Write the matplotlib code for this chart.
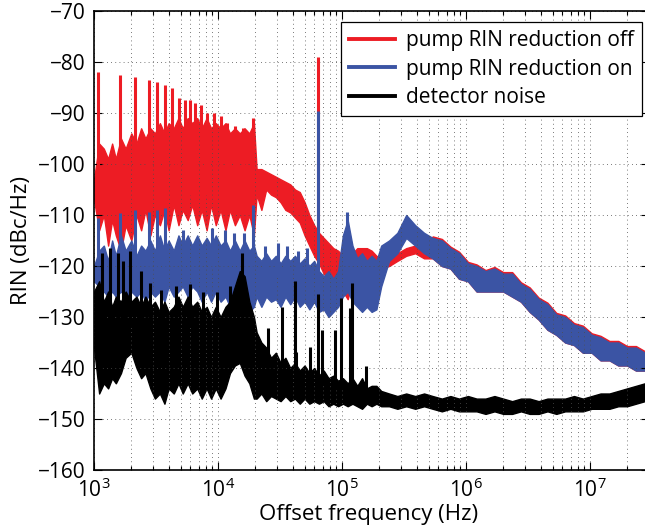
import matplotlib
matplotlib.use('Agg')
import matplotlib.pyplot as plt
from matplotlib.ticker import LogLocator, NullFormatter, FixedLocator
from matplotlib.lines import Line2D

plt.rcParams['font.family'] = ['Open Sans', 'DejaVu Sans']

# shared frequency grid (Hz) for the noise bands
freq_hz = [1000, 1100, 1200, 1300, 1400, 1500, 1650, 1800, 2000, 2200,
           2400, 2600, 2850, 3100, 3400, 3700, 4000, 4400, 4800, 5200,
           5700, 6200, 6800, 7400, 8100, 8800, 9600, 10500, 11500, 12500,
           13700, 15000, 16400, 17900, 19500, 20500, 22400, 24500, 26800, 29300,
           32000, 35000, 38300, 41800, 45700, 50000, 54600, 59700, 65300, 71300,
           78000, 85200, 93100, 101800, 111300, 121600, 133000, 145300, 158800, 173600,
           189700, 207400, 240000, 280000, 330000, 390000, 460000, 540000, 640000, 750000,
           880000, 1040000, 1220000, 1440000, 1700000, 2000000, 2360000, 2780000, 3270000, 3860000,
           4550000, 5360000, 6320000, 7450000, 8780000, 10350000, 12200000, 14380000, 16950000, 19980000,
           23550000, 27760000]

# pump RIN reduction off (upper / lower edge of the trace, dBc/Hz)
red_hi = [-103, -96, -97, -99, -96, -99, -95, -97, -94, -96,
          -93, -95, -93, -94, -92, -94, -92, -93, -91, -93,
          -91, -92, -91, -93, -91, -93, -92, -93, -92, -94,
          -93, -94, -93, -94, -92, -101, -101, -101.5, -102, -102.5,
          -103, -103.5, -104, -105, -105.5, -107.5, -110, -112, -113.5, -114.5,
          -115.5, -116.5, -117, -118, -119.5, -117.5, -116.5, -116.5, -116.5, -117,
          -118, -118.5, -118, -117.5, -116.5, -116, -116, -114.2, -114.7, -116.2,
          -117.2, -119.2, -119.7, -120.8, -120.2, -121.2, -121.2, -123.2, -124.2, -126.2,
          -127.2, -129.2, -129.7, -131.2, -131.7, -133.2, -133.7, -134.7, -134.7, -135.7,
          -135.7, -136.7]
red_lo = [-107, -113, -110, -116, -111, -114, -117, -112, -115, -110,
          -113, -109, -114, -110, -112, -109, -113, -108, -112, -109,
          -111, -108, -112, -109, -113, -108, -112, -109, -113, -109,
          -112, -110, -113, -110, -114, -106, -109, -105, -106, -106.5,
          -107.5, -109, -109.5, -110.5, -111.5, -114, -116, -118, -119.5, -121.5,
          -122.5, -123, -123.5, -125, -126.5, -123, -121.5, -121, -120.5, -121,
          -121, -120.5, -120, -119, -118, -117.5, -118.5, -118.5, -120, -120.5,
          -122.5, -123, -125, -125, -125, -125, -126, -127, -129, -130.5,
          -132.5, -133.5, -135, -135.5, -137, -137, -138.5, -138.5, -139.5, -139.5,
          -140.5, -140.5]

# pump RIN reduction on
blue_hi = [-120, -117, -116, -119, -115, -118, -114, -117, -115, -118,
           -116, -117, -115, -117, -114, -117, -115, -117, -114, -116,
           -114, -116, -114, -116, -114.5, -116, -114, -116, -115, -117,
           -115, -117, -115, -117, -116, -118, -119, -117.5, -119, -118,
           -119.5, -118, -119, -118, -119.5, -118.5, -120, -119, -121, -122,
           -121, -122.5, -121, -114, -111, -116, -118.5, -117.5, -119, -118,
           -119, -116, -115, -113.5, -110, -112, -113.5, -114.5, -115, -116.5,
           -117.5, -119.5, -120, -121, -120.5, -121.5, -121.5, -123.5, -124.5, -126.5,
           -127.5, -129.5, -130, -131.5, -132, -133.5, -134, -135, -135, -136,
           -136, -137]
blue_lo = [-123, -124, -125, -126, -125, -126, -125, -126, -125, -126,
           -125, -127, -125, -126, -125, -127, -124, -126, -125, -124,
           -126, -124, -125, -127, -125, -127, -125, -127, -126, -128,
           -127, -128, -126, -129, -128, -126, -128, -126, -127, -126.5,
           -128, -126, -127.5, -126, -128, -127, -128.5, -127, -129, -128.5,
           -130, -129, -128, -126, -125, -127, -128, -129, -128, -129,
           -128.5, -124, -119, -117.5, -114.5, -116, -117.5, -118.5, -120, -120.5,
           -122.5, -123, -125, -125, -125, -125, -126, -127, -129, -130.5,
           -132.5, -133.5, -135, -135.5, -137, -137, -138.5, -138.5, -139.5, -139.5,
           -140.5, -140.5]

# detector noise
black_hi = [-125, -123, -127, -125, -128, -126, -127, -125, -127, -126,
            -128, -126, -128, -127, -129, -127, -129, -128, -126, -128,
            -126, -128, -127, -129, -128, -130, -128, -130, -128, -127,
            -124, -121, -122, -127, -130, -133, -135, -136, -138, -137,
            -139, -138, -140, -139, -140.5, -139.5, -141, -140, -141.5, -140.5,
            -142, -141.5, -142.5, -142, -143, -142, -143.5, -142, -144, -143.5,
            -143.5, -144.5, -145, -145.5, -145, -145.5, -145, -145.5, -146, -145.5,
            -146, -145.5, -146, -146, -145.5, -146, -146.5, -146, -146, -146.5,
            -146, -146, -146, -145.5, -146, -145.5, -145, -145, -144.5, -144,
            -143.5, -143]
black_lo = [-136, -145, -143, -144, -142, -143, -141, -138, -137, -140,
            -142, -141, -144, -146, -145, -147, -144, -145, -143, -145,
            -143, -145, -144, -146, -144, -146, -144, -146, -144, -141,
            -139.5, -139, -141.5, -143, -146, -146, -145, -146.5, -145.5, -146,
            -146.5, -145.5, -146.5, -146, -147, -146, -147, -146.5, -147, -146.5,
            -147.5, -147, -147.5, -147, -147.5, -147, -147.5, -148, -147, -147.5,
            -147, -147.5, -147.5, -148, -147.5, -148, -147.5, -148, -148.5, -148,
            -148.5, -148.5, -148.5, -149, -148.5, -149, -149, -148.5, -149, -149,
            -148.5, -149, -148.5, -148.5, -148.5, -148, -148, -148, -147.5, -147.5,
            -147, -146.5]

# narrow spectral spikes: frequency, floor and peak (dBc/Hz)
red_spike_hz = [1080, 1620, 2140, 2780, 3220, 3730, 4250, 4850, 5420, 5950,
                6520, 7300, 8140, 9300, 10600, 11800, 13700, 15900, 19100, 64000]
red_spike_lo = [-106, -106, -106, -106, -106, -106, -106, -106, -106, -106,
                -106, -106, -106, -106, -106, -106, -106, -106, -106, -115]
red_spike_db = [-82, -82.5, -83, -83.5, -84, -84.5, -85, -87, -87.5, -87.5,
                -88, -88.5, -90, -90, -90.5, -92, -92.5, -93, -91, -79]

blue_spike_hz = [1080, 1620, 2140, 2780, 3220, 3730, 5200, 8900, 11400, 13500,
                 16200, 19100, 24000, 30500, 36000, 44000, 52000, 64000, 110000]
blue_spike_lo = [-120, -120, -120, -120, -120, -120, -120, -120, -120, -120,
                 -120, -120, -122, -122, -122, -122, -122, -122, -118]
blue_spike_db = [-110.5, -109.6, -109, -109.5, -109, -108.6, -113, -112.6, -113, -113.5,
                 -113.5, -108, -116, -115.5, -116, -117, -116.5, -89.7, -109.5]

black_spike_hz = [1150, 1340, 1560, 1710, 1940, 2390, 2810, 3470, 4600, 5900,
                  7600, 9800, 12600, 15600, 25300, 33000, 41700, 43000, 55000, 64200,
                  68500, 88000, 98300, 116000, 121000, 144000, 157000, 178000]
black_spike_lo = [-132, -132, -132, -132, -132, -132, -132, -132, -132, -132,
                  -132, -132, -132, -130, -140, -140, -140, -141, -142, -143,
                  -143, -144, -144, -144, -144, -145, -145, -145.5]
black_spike_db = [-117.5, -116.5, -117.5, -119, -117, -121, -123.3, -124.7, -124, -123.5,
                  -125, -125, -124, -117.5, -132.2, -128, -123, -136.8, -135.8, -125.5,
                  -132.5, -132.5, -126.3, -128.2, -123.3, -142.6, -139.7, -144.7]

labels = ['pump RIN reduction off', 'pump RIN reduction on', 'detector noise']
colors = ['#ED1C24', '#3B54A4', '#000000']

fig = plt.figure(figsize=(6.45, 5.25), dpi=100)
ax = fig.add_axes([94 / 645, 55 / 525, 555 / 645, 459 / 525])

bands = [(red_hi, red_lo, red_spike_hz, red_spike_lo, red_spike_db),
         (blue_hi, blue_lo, blue_spike_hz, blue_spike_lo, blue_spike_db),
         (black_hi, black_lo, black_spike_hz, black_spike_lo, black_spike_db)]
for (hi, lo, shz, slo, sdb), col in zip(bands, colors):
    ax.fill_between(freq_hz, lo, hi, color=col, lw=1.0, edgecolor=col)
    ax.vlines(shz, slo, sdb, colors=col, lw=2.2)

ax.set_xscale('log')
ax.set_xlim(1e3, 3e7)
ax.set_ylim(-160, -70)
ax.set_yticks(range(-160, -69, 10))
ax.xaxis.set_major_locator(FixedLocator([1e3, 1e4, 1e5, 1e6, 1e7]))
ax.set_xticklabels([r'$\mathregular{10^{%d}}$' % e for e in range(3, 8)])
ax.xaxis.set_minor_locator(LogLocator(base=10, subs=range(2, 10), numticks=20))
ax.xaxis.set_minor_formatter(NullFormatter())

ax.grid(True, which='major', ls=(0, (1, 4)), color='0.3', lw=0.6)
ax.grid(True, which='minor', axis='x', ls=(0, (1, 4)), color='0.3', lw=0.6)
ax.tick_params(which='both', direction='in', top=True, right=True, width=0.8,
               labelsize=15, colors='black')
ax.tick_params(which='major', length=6, pad=6)
ax.tick_params(which='minor', length=3)
for s in ax.spines.values():
    s.set_linewidth(1.2)

ax.set_xlabel('Offset frequency (Hz)', fontsize=16)
ax.set_ylabel('RIN (dBc/Hz)', fontsize=16)
ax.xaxis.set_label_coords(0.495, -0.075)
ax.yaxis.set_label_coords(-0.112, 0.5)

handles = [Line2D([], [], color=c, lw=2.8) for c in colors]
leg = ax.legend(handles, labels, loc='upper right', bbox_to_anchor=(0.987, 0.976),
                borderaxespad=0, fancybox=False, framealpha=1, edgecolor='black',
                fontsize=15, handlelength=2.2, handletextpad=0.5,
                labelspacing=0.35, borderpad=0.4)
leg.get_frame().set_linewidth(0.9)

fig.savefig('out.png', dpi=100)
